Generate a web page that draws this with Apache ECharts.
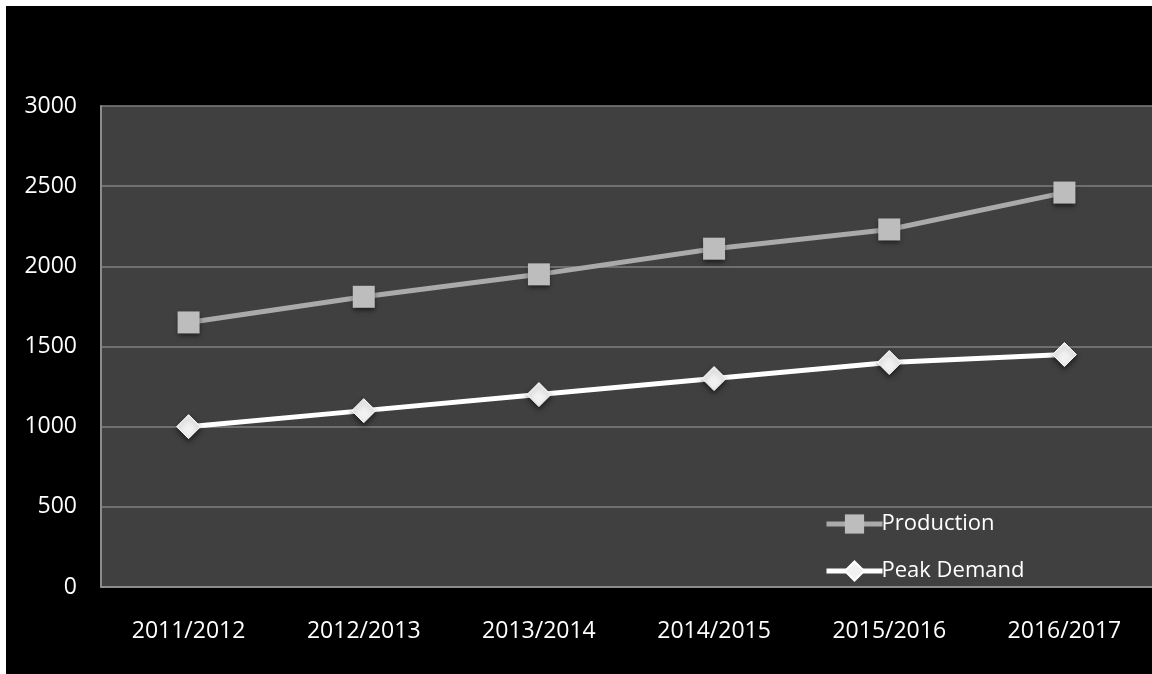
<!DOCTYPE html>
<html>
<head>
<meta charset="utf-8">
<script src="https://cdn.jsdelivr.net/npm/echarts@6/dist/echarts.min.js"></script>
<style>
  html, body { margin: 0; padding: 0; background: #ffffff; }
  #chart { position: absolute; left: 6px; top: 6px; width: 1146px; height: 668px; background: #000000; }
</style>
</head>
<body>
<div id="chart"></div>
<script>
// Seasons on the category axis
const seasons = ['2011/2012', '2012/2013', '2013/2014', '2014/2015', '2015/2016', '2016/2017'];
// Series values
const production = [1650, 1810, 1950, 2110, 2230, 2460];
const peakDemand = [1000, 1100, 1200, 1300, 1400, 1450];
// Value axis range
const yMin = 0;
const yMax = 3000;
const yStep = 500;

const font = '"Open Sans", "DejaVu Sans", sans-serif';
const chart = echarts.init(document.getElementById('chart'), null, { renderer: 'canvas' });

chart.setOption({
  backgroundColor: '#000000',
  animation: false,
  grid: {
    left: 95, top: 100, width: 1056, height: 481,
    show: true, backgroundColor: '#404040', borderWidth: 0
  },
  legend: {
    orient: 'vertical',
    left: 813, top: 502,
    itemWidth: 56, itemHeight: 24, itemGap: 25,
    lineStyle: { width: 5 },
    textStyle: { color: '#ffffff', fontSize: 22, fontFamily: font, padding: [0, 0, 0, -6] },
    data: ['Production', 'Peak Demand']
  },
  xAxis: {
    type: 'category',
    data: seasons,
    boundaryGap: true,
    axisLine: { show: true, lineStyle: { color: '#8c8c8c', width: 2 } },
    axisTick: { show: false },
    axisLabel: { color: '#ffffff', fontSize: 23, fontFamily: font, margin: 33 },
    splitLine: { show: false }
  },
  yAxis: {
    type: 'value',
    min: yMin, max: yMax, interval: yStep,
    axisLine: { show: true, lineStyle: { color: '#8c8c8c', width: 2 } },
    axisTick: { show: false },
    axisLabel: {
      color: '#ffffff', fontSize: 23, fontFamily: font, margin: 24,
      formatter: (v) => String(v)
    },
    splitLine: { show: true, lineStyle: { color: '#808080', width: 1.5 } }
  },
  series: [
    {
      name: 'Production',
      type: 'line',
      data: production,
      symbol: 'rect',
      symbolSize: 22,
      lineStyle: { color: '#aaaaaa', width: 5 },
      itemStyle: {
        color: '#bdbdbd', borderWidth: 0,
        shadowColor: 'rgba(0,0,0,0.55)', shadowBlur: 5, shadowOffsetY: 3
      },
      z: 3
    },
    {
      name: 'Peak Demand',
      type: 'line',
      data: peakDemand,
      symbol: 'diamond',
      symbolSize: 24,
      lineStyle: { color: '#ffffff', width: 5 },
      itemStyle: {
        color: '#f2f2f2', borderColor: '#ffffff', borderWidth: 1,
        shadowColor: 'rgba(0,0,0,0.5)', shadowBlur: 5, shadowOffsetY: 3
      },
      z: 4
    }
  ]
});
</script>
</body>
</html>
